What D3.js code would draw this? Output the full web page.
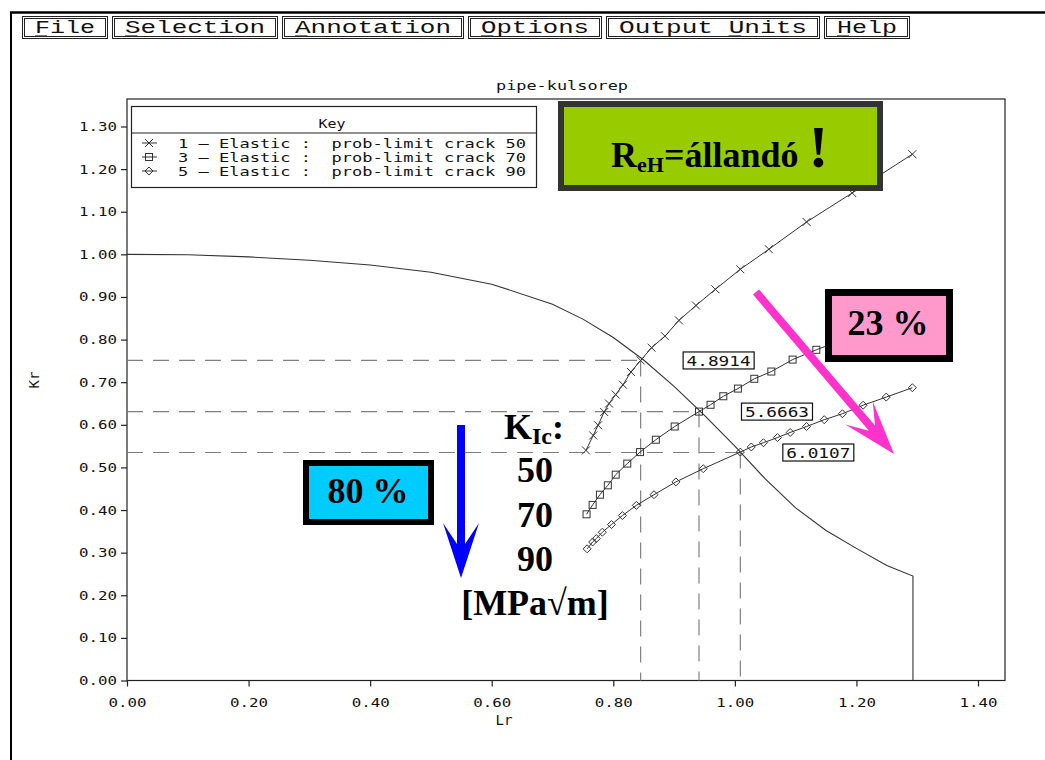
<!DOCTYPE html>
<html>
<head>
<meta charset="utf-8">
<script src="https://cdn.jsdelivr.net/npm/d3@7"></script>
<style>
  html, body { margin: 0; padding: 0; background: #fff; }
  svg { display: block; }
  .mono { font-family: "DejaVu Sans Mono", "Liberation Mono", monospace; fill: #111; }
  .menu { font-family: "Liberation Mono", "DejaVu Sans Mono", monospace; fill: #111; }
  .serif { font-family: "Liberation Serif", "Times New Roman", serif; font-weight: bold; fill: #000; }
</style>
</head>
<body>
<svg id="chart" width="1045" height="760"></svg>
<script>
// ---- menu bar ----
const menuItems = ["File", "Selection", "Annotation", "Options", "Output Units", "Help"];
const menuKeys  = [0, 0, 0, 0, 7, 0];

// ---- axes ----
const xTicks = [0.00, 0.20, 0.40, 0.60, 0.80, 1.00, 1.20, 1.40];
const yTicks = [0.00, 0.10, 0.20, 0.30, 0.40, 0.50, 0.60, 0.70, 0.80, 0.90, 1.00, 1.10, 1.20, 1.30];

// ---- failure assessment line ----
const falLr = [0.00, 0.10, 0.20, 0.30, 0.40, 0.50, 0.60, 0.70, 0.75, 0.80, 0.85, 0.90, 0.95, 1.00, 1.05, 1.10, 1.15, 1.20, 1.25, 1.293, 1.293];
const falKr = [1.000, 0.999, 0.994, 0.986, 0.975, 0.958, 0.930, 0.883, 0.848, 0.805, 0.752, 0.690, 0.622, 0.550, 0.473, 0.405, 0.352, 0.310, 0.270, 0.245, 0.000];

// ---- assessment points, K_Ic = 50 ----
const s1Lr = [0.755, 0.767, 0.775, 0.785, 0.793, 0.804, 0.816, 0.829, 0.845, 0.863, 0.885, 0.908, 0.936, 0.968, 1.009, 1.056, 1.118, 1.193, 1.292];
const s1Kr = [0.540, 0.575, 0.599, 0.630, 0.650, 0.671, 0.694, 0.724, 0.751, 0.781, 0.808, 0.845, 0.880, 0.918, 0.965, 1.012, 1.076, 1.144, 1.235];

// ---- assessment points, K_Ic = 70 ----
const s3Lr = [0.756, 0.766, 0.778, 0.791, 0.804, 0.823, 0.844, 0.870, 0.901, 0.941, 0.960, 0.981, 1.005, 1.032, 1.060, 1.095, 1.134, 1.190, 1.245, 1.292];
const s3Kr = [0.390, 0.412, 0.436, 0.458, 0.483, 0.509, 0.536, 0.565, 0.596, 0.631, 0.647, 0.667, 0.685, 0.708, 0.725, 0.753, 0.776, 0.806, 0.836, 0.860];

// ---- assessment points, K_Ic = 90 ----
const s5Lr = [0.757, 0.766, 0.772, 0.782, 0.797, 0.815, 0.838, 0.867, 0.903, 0.948, 1.009, 1.027, 1.047, 1.070, 1.091, 1.118, 1.147, 1.177, 1.211, 1.249, 1.292];
const s5Kr = [0.309, 0.325, 0.333, 0.348, 0.366, 0.387, 0.411, 0.436, 0.466, 0.497, 0.536, 0.548, 0.558, 0.570, 0.582, 0.596, 0.612, 0.626, 0.646, 0.665, 0.687];

// ---- intersections with the FAL and their reserve-factor labels ----
const crossLr = [0.845, 0.941, 1.009];
const crossKr = [0.751, 0.631, 0.535];
const crossLabels = ["4.8914", "5.6663", "6.0107"];

// ---- legend ----
const legendLabels = [
  "1 \u2013 Elastic :  prob-limit crack 50",
  "3 \u2013 Elastic :  prob-limit crack 70",
  "5 \u2013 Elastic :  prob-limit crack 90"
];
const legendMarkers = ["x", "square", "diamond"];

// ---- K_Ic values listed beside the curves ----
const kicValues = ["50", "70", "90"];

const svg = d3.select("#chart");

// window border
svg.append("line").attr("x1", 10).attr("x2", 1045).attr("y1", 12.5).attr("y2", 12.5)
  .attr("stroke", "#000").attr("stroke-width", 2.5);
svg.append("line").attr("x1", 11).attr("x2", 11).attr("y1", 12).attr("y2", 760)
  .attr("stroke", "#000").attr("stroke-width", 2);

// menu bar
(function drawMenu() {
  let x = 22;
  const g = svg.append("g");
  menuItems.forEach((label, i) => {
    const n = label.length;
    const w = 16 * n + 22;
    const h = 23, y = 16;
    g.append("rect").attr("x", x + 0.5).attr("y", y + 0.5).attr("width", w - 1).attr("height", h - 1)
      .attr("fill", "#fff").attr("stroke", "#222").attr("stroke-width", 1);
    g.append("rect").attr("x", x + 2.5).attr("y", y + 2.5).attr("width", w - 5).attr("height", h - 5)
      .attr("fill", "none").attr("stroke", "#222").attr("stroke-width", 1);
    const tl = 16 * n - 4;
    const tx = x + (w - tl) / 2;
    g.append("text").attr("class", "menu").attr("x", tx).attr("y", 33)
      .attr("font-size", 18).attr("textLength", tl).attr("lengthAdjust", "spacingAndGlyphs")
      .attr("xml:space", "preserve").text(label);
    const pitch = tl / n;
    const k = menuKeys[i];
    g.append("line").attr("x1", tx + k * pitch).attr("x2", tx + k * pitch + pitch * 0.8)
      .attr("y1", 36).attr("y2", 36).attr("stroke", "#222").attr("stroke-width", 1.2);
    x += w + 4;
  });
})();

// scales
const x = d3.scaleLinear().domain([0, 1.4]).range([127, 978]);
const y = d3.scaleLinear().domain([0, 1.3]).range([680.5, 126.5]);
const frame = { left: 127, right: 1005, top: 99, bottom: 680.5 };

// title
svg.append("text").attr("class", "mono").attr("x", 562).attr("y", 90)
  .attr("text-anchor", "middle").attr("font-size", 13)
  .attr("textLength", 132).attr("lengthAdjust", "spacingAndGlyphs").text("pipe-kulsorep");

// plot frame
svg.append("rect").attr("x", frame.left).attr("y", frame.top)
  .attr("width", frame.right - frame.left).attr("height", frame.bottom - frame.top)
  .attr("fill", "none").attr("stroke", "#222").attr("stroke-width", 1.2);

// axes
const fmt = d3.format(".2f");
const gy = svg.append("g").attr("transform", `translate(${frame.left},0)`)
  .call(d3.axisLeft(y).tickValues(yTicks).tickFormat(fmt).tickSize(6).tickSizeOuter(0).tickPadding(4));
const gx = svg.append("g").attr("transform", `translate(0,${frame.bottom})`)
  .call(d3.axisBottom(x).tickValues(xTicks).tickFormat(fmt).tickSize(6).tickSizeOuter(0));
[gx, gy].forEach(g => {
  g.select(".domain").remove();
  g.selectAll(".tick line").attr("stroke", "#222").attr("stroke-width", 1.2);
  g.selectAll(".tick text").attr("class", "mono").attr("font-size", 12.5)
    .attr("font-family", null).attr("fill", "#111")
    .attr("textLength", 38).attr("lengthAdjust", "spacingAndGlyphs");
});
gx.selectAll(".tick text").attr("dy", null).attr("y", 26);

// axis titles
svg.append("text").attr("class", "mono").attr("x", 504).attr("y", 725)
  .attr("text-anchor", "middle").attr("font-size", 14).text("Lr");
svg.append("text").attr("class", "mono").attr("transform", "translate(39,380) rotate(-90)")
  .attr("text-anchor", "middle").attr("font-size", 14).text("Kr");

// dashed projection lines from each intersection to the axes
const dashG = svg.append("g").attr("stroke", "#808080").attr("stroke-width", 1.2)
  .attr("stroke-dasharray", "16,10").attr("fill", "none");
crossLr.forEach((lr, i) => {
  dashG.append("line").attr("x1", frame.left).attr("x2", x(lr))
    .attr("y1", y(crossKr[i])).attr("y2", y(crossKr[i]));
  dashG.append("line").attr("x1", x(lr)).attr("x2", x(lr))
    .attr("y1", y(crossKr[i])).attr("y2", frame.bottom);
});

const line = d3.line().x(d => x(d[0])).y(d => y(d[1]));

// failure assessment line
svg.append("path").datum(d3.zip(falLr, falKr)).attr("d", line)
  .attr("fill", "none").attr("stroke", "#333").attr("stroke-width", 1.1);

function drawMarker(g, type, cx, cy, s) {
  if (type === "x") {
    g.append("path").attr("d", `M${cx - s},${cy - s}L${cx + s},${cy + s}M${cx - s},${cy + s}L${cx + s},${cy - s}`)
      .attr("stroke", "#333").attr("stroke-width", 1).attr("fill", "none");
  } else if (type === "square") {
    g.append("rect").attr("x", cx - s + 0.5).attr("y", cy - s + 0.5).attr("width", 2 * s - 1).attr("height", 2 * s - 1)
      .attr("stroke", "#333").attr("stroke-width", 1).attr("fill", "none");
  } else {
    g.append("path").attr("d", `M${cx},${cy - s}L${cx + s},${cy}L${cx},${cy + s}L${cx - s},${cy}Z`)
      .attr("stroke", "#333").attr("stroke-width", 1).attr("fill", "none");
  }
}

const series = [
  { lr: s1Lr, kr: s1Kr, m: "x", s: 4 },
  { lr: s3Lr, kr: s3Kr, m: "square", s: 4 },
  { lr: s5Lr, kr: s5Kr, m: "diamond", s: 4 }
];
series.forEach(sr => {
  const pts = d3.zip(sr.lr, sr.kr);
  const g = svg.append("g");
  g.append("path").datum(pts).attr("d", line)
    .attr("fill", "none").attr("stroke", "#333").attr("stroke-width", 1);
  pts.forEach(p => drawMarker(g, sr.m, x(p[0]), y(p[1]), sr.s));
});

// reserve-factor labels next to the intersections
crossLr.forEach((lr, i) => {
  const px = x(lr) + 42, py = y(crossKr[i]);
  svg.append("rect").attr("x", px + 0.5).attr("y", py - 8.5).attr("width", 71).attr("height", 17)
    .attr("fill", "#fff").attr("stroke", "#111").attr("stroke-width", 1.2);
  svg.append("text").attr("class", "mono").attr("x", px + 36).attr("y", py + 5.5)
    .attr("text-anchor", "middle").attr("font-size", 14)
    .attr("textLength", 64).attr("lengthAdjust", "spacingAndGlyphs").text(crossLabels[i]);
});

// legend
(function drawLegend() {
  const g = svg.append("g");
  g.append("rect").attr("x", 131.5).attr("y", 106.5).attr("width", 405).attr("height", 81)
    .attr("fill", "#fff").attr("stroke", "#222").attr("stroke-width", 1.2);
  g.append("line").attr("x1", 131.5).attr("x2", 536.5).attr("y1", 133).attr("y2", 133)
    .attr("stroke", "#222").attr("stroke-width", 1.2);
  g.append("text").attr("class", "mono").attr("x", 332).attr("y", 128)
    .attr("text-anchor", "middle").attr("font-size", 13).attr("textLength", 27)
    .attr("lengthAdjust", "spacingAndGlyphs").text("Key");
  legendLabels.forEach((t, i) => {
    const cy = 143 + i * 14;
    g.append("line").attr("x1", 142).attr("x2", 157).attr("y1", cy).attr("y2", cy)
      .attr("stroke", "#333").attr("stroke-width", 1);
    drawMarker(g, legendMarkers[i], 149, cy, 4);
    g.append("text").attr("class", "mono").attr("x", 178).attr("y", cy + 4.5)
      .attr("font-size", 13).attr("xml:space", "preserve")
      .attr("textLength", 348).attr("lengthAdjust", "spacingAndGlyphs").text(t);
  });
})();

// ---- annotations ----
function notchedArrow(x1, y1, x2, y2, shaftW, headLen, headHalf, notch) {
  const L = Math.hypot(x2 - x1, y2 - y1);
  const ux = (x2 - x1) / L, uy = (y2 - y1) / L;
  const px = -uy, py = ux;
  const at = (a, b) => [x1 + ux * a + px * b, y1 + uy * a + py * b];
  const pts = [
    at(0, -shaftW / 2), at(L - notch, -shaftW / 2),
    at(L - headLen, -headHalf), at(L, 0), at(L - headLen, headHalf),
    at(L - notch, shaftW / 2), at(0, shaftW / 2)
  ];
  return "M" + pts.map(p => p.join(",")).join("L") + "Z";
}

// blue arrow
svg.append("path").attr("d", notchedArrow(461, 425, 461, 578, 8, 55, 18, 34)).attr("fill", "#0000ff");
// magenta arrow
svg.append("path").attr("d", notchedArrow(756, 292, 894, 454, 8, 54, 18, 34)).attr("fill", "#ff33cc");

// green note
svg.append("rect").attr("x", 561).attr("y", 104).attr("width", 319).attr("height", 84)
  .attr("fill", "#99cc00").attr("stroke", "#333").attr("stroke-width", 6);
const tg = svg.append("text").attr("class", "serif").attr("x", 611).attr("y", 167).attr("font-size", 36);
tg.append("tspan").text("R");
tg.append("tspan").attr("font-size", 22).attr("dy", 5).text("eH");
tg.append("tspan").attr("dy", -5).text("=állandó");
tg.append("tspan").attr("font-size", 60).attr("dx", 10).text("!");

// pink note
svg.append("rect").attr("x", 828.5).attr("y", 292.5).attr("width", 121).attr("height", 66)
  .attr("fill", "#ff99cc").attr("stroke", "#000").attr("stroke-width", 7);
svg.append("text").attr("class", "serif").attr("x", 888).attr("y", 335)
  .attr("text-anchor", "middle").attr("font-size", 36).text("23 %");

// cyan note
svg.append("rect").attr("x", 306).attr("y", 463).attr("width", 125).attr("height", 59)
  .attr("fill", "#00ccff").attr("stroke", "#000").attr("stroke-width", 6);
svg.append("text").attr("class", "serif").attr("x", 368).attr("y", 503)
  .attr("text-anchor", "middle").attr("font-size", 36).text("80 %");

// K_Ic list
const kt = svg.append("text").attr("class", "serif").attr("x", 504).attr("y", 439).attr("font-size", 36);
kt.append("tspan").text("K");
kt.append("tspan").attr("font-size", 24).attr("dy", 5).text("Ic");
kt.append("tspan").attr("dy", -5).text(":");
kicValues.forEach((v, i) => {
  svg.append("text").attr("class", "serif").attr("x", 535).attr("y", 482 + i * 44.5)
    .attr("text-anchor", "middle").attr("font-size", 36).text(v);
});
svg.append("text").attr("class", "serif").attr("x", 535).attr("y", 615)
  .attr("text-anchor", "middle").attr("font-size", 36).text("[MPa\u221Am]");
</script>
</body>
</html>
